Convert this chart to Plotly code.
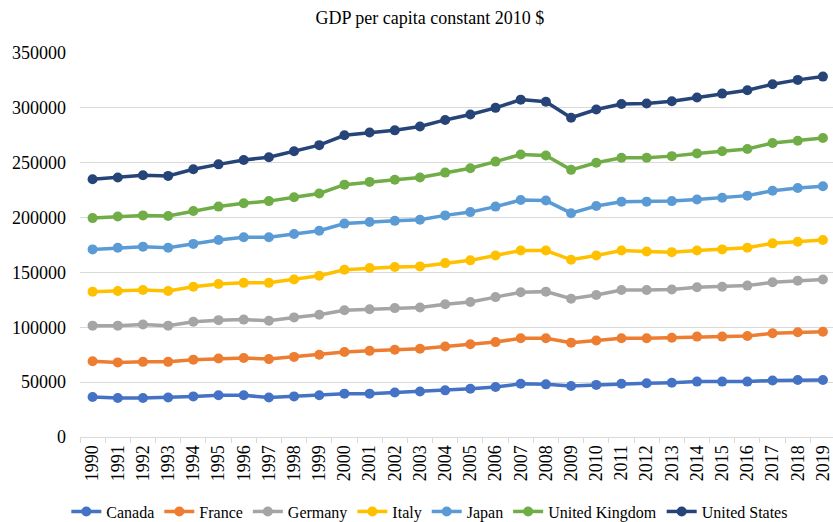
import plotly.graph_objects as go

years = [str(y) for y in range(1990, 2020)]

canada = [36500, 35500, 35500, 36000, 37000, 38000, 38000, 36000, 37000, 38000,
          39500, 39500, 40500, 41500, 42500, 44000, 45500, 48500, 48000, 46500,
          47500, 48500, 49000, 49500, 50500, 50500, 50500, 51500, 52000, 52000]
france = [69000, 68000, 68500, 68500, 70500, 71500, 72000, 71000, 73000, 75000,
          77500, 78500, 79500, 80500, 82500, 84500, 86500, 90000, 90000, 86000,
          88000, 90000, 90000, 90500, 91500, 91500, 92000, 94500, 95500, 96000]
germany = [101500, 101500, 102500, 101500, 105000, 106500, 107000, 106000, 109000, 111500,
           115500, 116500, 117500, 118000, 121000, 123000, 127500, 132000, 132500, 126000,
           129500, 134000, 134000, 134500, 136500, 137000, 138000, 141000, 142500, 143500]
italy = [132500, 133000, 134000, 133000, 137000, 139500, 140500, 140500, 143500, 147000,
         152500, 154000, 155000, 155500, 158500, 161000, 165500, 170000, 170000, 161500,
         165500, 170000, 169000, 168500, 170000, 171000, 172500, 176500, 178000, 179500]
japan = [171000, 172500, 173500, 172500, 176000, 179500, 182000, 182000, 185000, 188000,
         194500, 196000, 197000, 198000, 202000, 205000, 210000, 216000, 215500, 204000,
         210500, 214500, 214500, 215000, 216500, 218000, 220000, 224500, 227000, 228500]
uk = [199500, 201000, 202000, 201500, 206000, 210000, 213000, 215000, 218500, 222000,
      230000, 232500, 234500, 236500, 241000, 245000, 251000, 257500, 256500, 243500,
      250000, 254500, 254500, 256000, 258500, 260500, 262500, 268000, 270000, 272500]
us = [235000, 236500, 238500, 238000, 244000, 248500, 252500, 255000, 260500, 266000,
      275000, 277500, 279500, 283000, 289000, 294000, 300000, 307500, 305500, 291000,
      298500, 303500, 304000, 306000, 309500, 313000, 316000, 321500, 325500, 328500]

series = [
    ("Canada", canada, "#4472C4"),
    ("France", france, "#ED7D31"),
    ("Germany", germany, "#A5A5A5"),
    ("Italy", italy, "#FFC000"),
    ("Japan", japan, "#5B9BD5"),
    ("United Kingdom", uk, "#70AD47"),
    ("United States", us, "#264478"),
]

fig = go.Figure()
for name, vals, col in series:
    fig.add_trace(go.Scatter(
        x=years, y=vals, name=name, mode="lines+markers",
        line=dict(color=col, width=3.5),
        marker=dict(color=col, size=10),
        cliponaxis=False,
    ))

font = "Times New Roman, Tinos, Liberation Serif, serif"
fig.update_layout(
    width=833, height=522,
    margin=dict(l=80, r=0, t=53, b=85, autoexpand=False),
    paper_bgcolor="white", plot_bgcolor="white",
    font=dict(family=font, size=18, color="#000000"),
    title=dict(text="GDP per capita constant 2010 $", x=0.516, xanchor="center",
               y=0.967, yanchor="middle", font=dict(family=font, size=18, color="#000000")),
    showlegend=True,
    legend=dict(orientation="h", xref="container", yref="container",
                x=0.516, xanchor="center", y=0.02, yanchor="middle",
                font=dict(family=font, size=16), itemwidth=30, tracegroupgap=0,
                traceorder="normal"),
    xaxis=dict(type="category", range=[-0.5, 29.4], tickangle=-90, automargin=False,
               ticks="outside", tickson="boundaries", ticklen=5, tickcolor="#D9D9D9",
               showline=True, linecolor="#D9D9D9", linewidth=1,
               showgrid=False, tickfont=dict(family=font, size=18)),
    yaxis=dict(range=[0, 350000], dtick=50000, tickformat="d", automargin=False,
               showgrid=True, gridcolor="#D9D9D9", gridwidth=1,
               zeroline=False, showline=False, ticks="",
               tickfont=dict(family=font, size=18), ticklabelstandoff=13),
)

fig.write_html("out.html")
